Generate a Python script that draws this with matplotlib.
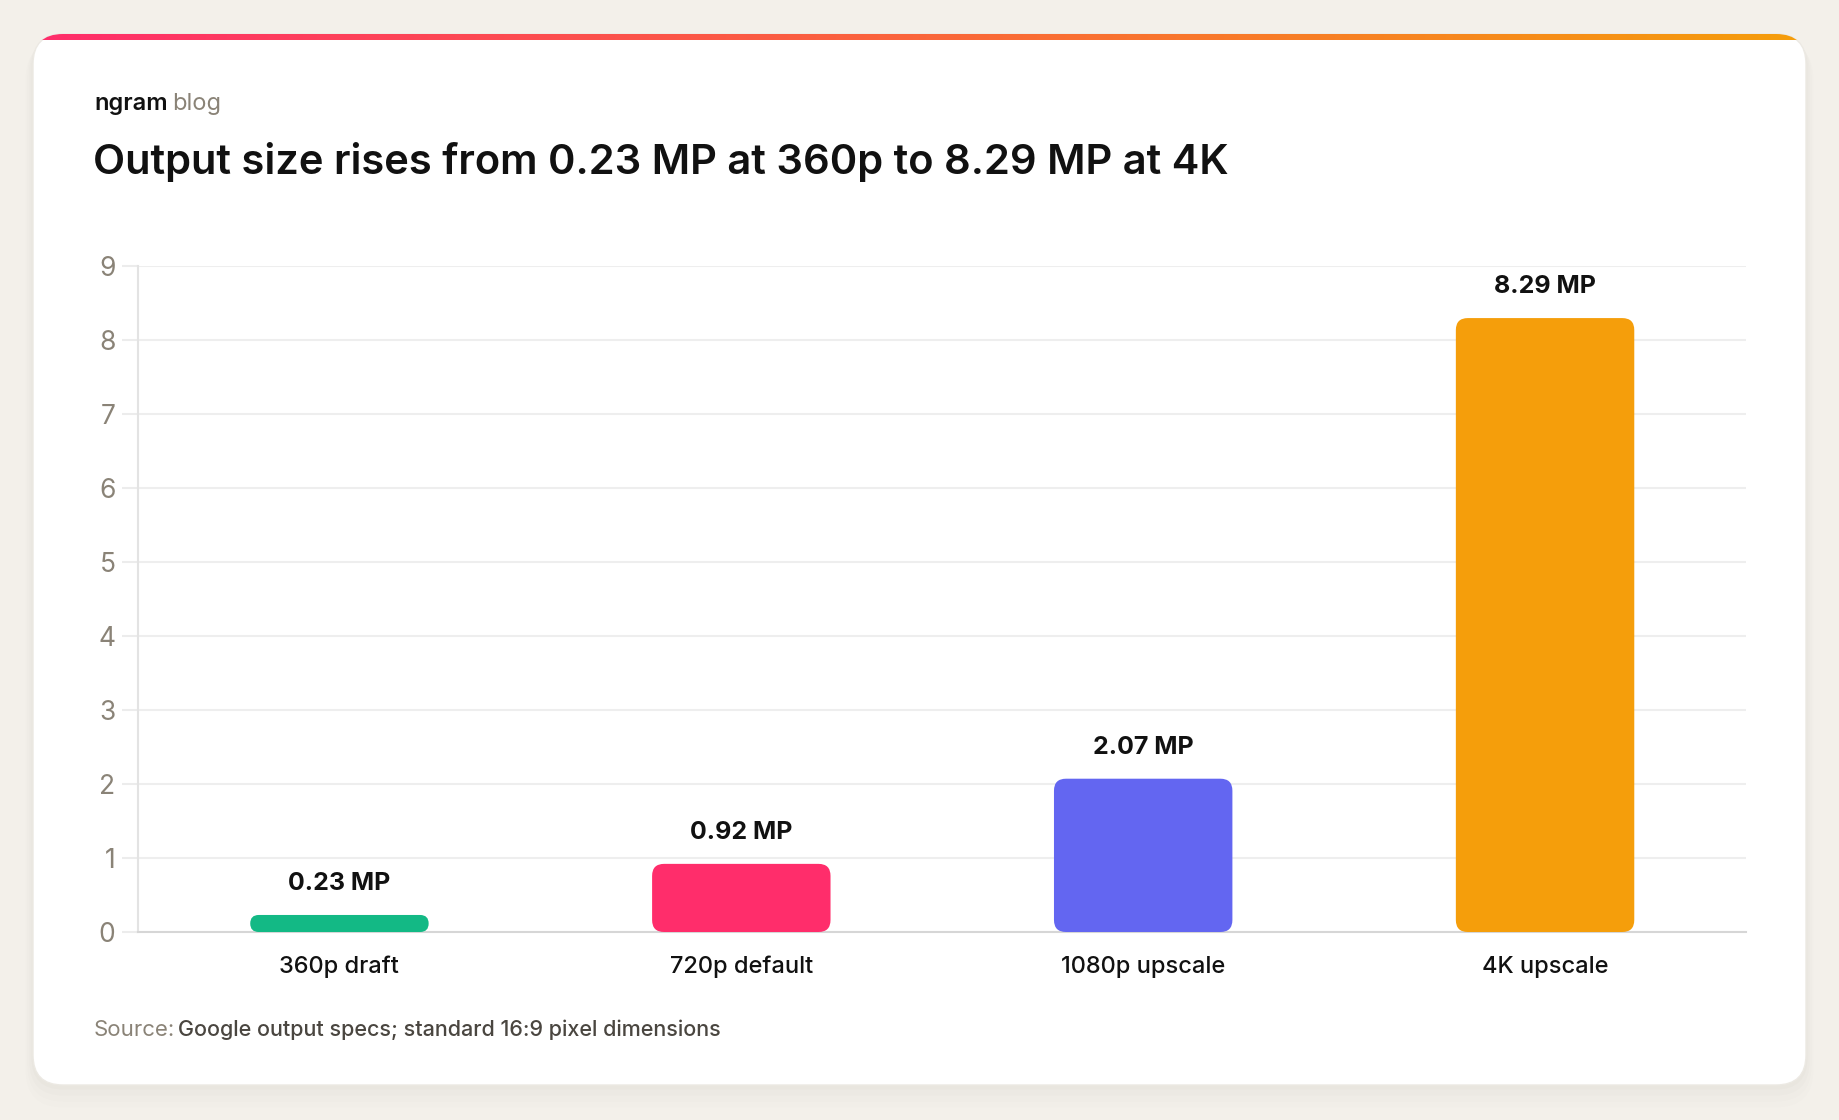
"""
Output size by resolution tier, bar chart on a card.
"""
import numpy as np
import matplotlib
matplotlib.use("Agg")
import matplotlib.pyplot as plt
from matplotlib.patches import FancyBboxPatch
from matplotlib.colors import LinearSegmentedColormap

# --- Data ---
tiers = ["360p draft", "720p default", "1080p upscale", "4K upscale"]
megapixels = [0.23, 0.92, 2.07, 8.29]
value_labels = ["0.23 MP", "0.92 MP", "2.07 MP", "8.29 MP"]
bar_colors = ["#13b985", "#ff2d6b", "#6366f1", "#f59e0b"]
y_ticks = [0, 1, 2, 3, 4, 5, 6, 7, 8, 9]

title = "Output size rises from 0.23 MP at 360p to 8.29 MP at 4K"
source = "Google output specs; standard 16:9 pixel dimensions"

W, H = 1840, 1120
FONT = ["Inter", "DejaVu Sans"]
plt.rcParams["font.family"] = FONT

fig = plt.figure(figsize=(W / 100, H / 100), dpi=100)
fig.patch.set_facecolor("#f3f0ea")

# --- Card background (pixel coords) ---
bg = fig.add_axes([0, 0, 1, 1])
bg.set_xlim(0, W)
bg.set_ylim(H, 0)
bg.axis("off")
bg.set_zorder(0)

cx0, cy0, cx1, cy1, rad = 33, 34, 1806, 1085, 30
for i, a in enumerate([0.018, 0.014, 0.010, 0.006]):
    off = 3 + i * 4
    sh = FancyBboxPatch((cx0 - off / 2, cy0 + off / 2), cx1 - cx0 + off, cy1 - cy0 + off,
                        boxstyle=f"round,pad=0,rounding_size={rad + off / 2}",
                        fc="#6b5e4a", ec="none", alpha=a)
    bg.add_patch(sh)
card = FancyBboxPatch((cx0, cy0), cx1 - cx0, cy1 - cy0,
                      boxstyle=f"round,pad=0,rounding_size={rad}",
                      fc="white", ec="#ece9e3", lw=1)
bg.add_patch(card)

grad = LinearSegmentedColormap.from_list("top", ["#ff2d6b", "#f59e0b"])
im = bg.imshow(np.linspace(0, 1, 512)[None, :], cmap=grad, aspect="auto",
               extent=[cx0, cx1, cy0 + 6, cy0], zorder=3)
im.set_clip_path(card)

bg.text(94, 110, "ngram", fontsize=17, fontweight="semibold", color="#111111",
        va="baseline", ha="left")
bg.text(172, 110, "blog", fontsize=17, color="#8a8377", va="baseline", ha="left")
bg.text(93, 174, title, fontsize=30, fontweight="semibold", color="#111111",
        va="baseline", ha="left")
bg.text(94, 1036, "Source:", fontsize=16, color="#8a8377", va="baseline", ha="left")
bg.text(178, 1036, source, fontsize=15.5, fontweight="medium", color="#4a4640",
        va="baseline", ha="left")

# --- Bars ---
ax = fig.add_axes([138.5 / W, 1 - 932 / H, (1746 - 138.5) / W, (932 - 265.5) / H])
ax.set_zorder(2)
ax.patch.set_alpha(0)
ax.set_xlim(-0.5, len(tiers) - 0.5)
ax.set_ylim(0, 9)

bbox = ax.get_position()
px_x = bbox.width * W / (len(tiers))   # pixels per x unit
px_y = bbox.height * H / 9             # pixels per y unit
bar_w = 0.444

x = np.arange(len(tiers))
for xi, val, col, lab in zip(x, megapixels, bar_colors, value_labels):
    r_px = min(12, val * px_y / 2)
    p = FancyBboxPatch((xi - bar_w / 2, 0), bar_w, val,
                       boxstyle=f"round,pad=0,rounding_size={r_px / px_x}",
                       mutation_aspect=px_x / px_y, fc=col, ec="none", zorder=3)
    ax.add_patch(p)
    ax.annotate(lab, (xi, val), xytext=(0, 18), textcoords="offset points",
                ha="center", va="baseline", fontsize=18, fontweight="bold",
                color="#111111")

ax.set_yticks(y_ticks)
ax.set_xticks(x)
ax.set_xticklabels(tiers, fontsize=17, fontweight="medium", color="#111111")
ax.tick_params(axis="x", length=0, pad=17)
ax.tick_params(axis="y", length=11.5, color="#ececec", width=1.5, pad=5,
               labelsize=19, labelcolor="#8a8377")
ax.grid(True, axis="y", color="#eeeeee", lw=1.5)
ax.set_axisbelow(True)
for s in ["top", "right"]:
    ax.spines[s].set_visible(False)
ax.spines["left"].set_color("#e3e3e3")
ax.spines["left"].set_linewidth(1.5)
ax.spines["bottom"].set_color("#d6d6d6")
ax.spines["bottom"].set_linewidth(1.5)

plt.savefig("out.png", dpi=100, facecolor=fig.get_facecolor())
